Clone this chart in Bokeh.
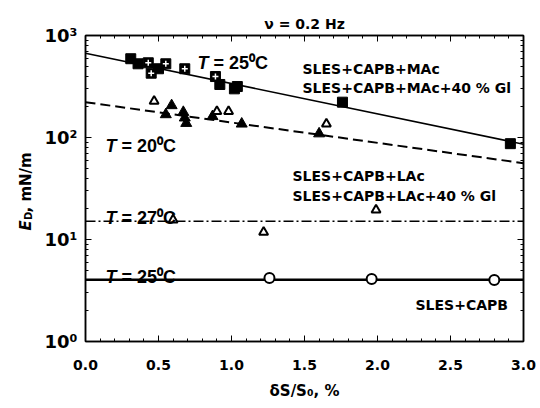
import numpy as np
from bokeh.plotting import figure
from bokeh.models import Label, LogAxis, LinearAxis, FixedTicker, Range1d, NumeralTickFormatter
from bokeh.embed import file_html
from bokeh.resources import INLINE

# ---- data ----
mac_x = [0.31, 0.36, 0.50, 0.92, 1.02, 1.04, 1.76, 2.91]
mac_y = [592, 528, 472, 331, 300, 316, 222, 87]
mac_gl_x = [0.43, 0.45, 0.55, 0.68, 0.89]
mac_gl_y = [540, 427, 528, 472, 396]
lac_x = [0.55, 0.59, 0.67, 0.68, 0.69, 0.87, 1.07, 1.60]
lac_y = [168, 206, 177, 156, 138, 161, 136, 109]
lac_gl_x = [0.47, 0.90, 0.98, 1.65]
lac_gl_y = [227, 180, 180, 136]
lac27_x = [0.60, 1.22, 1.99]
lac27_y = [15.6, 11.8, 19.5]
capb_x = [1.26, 1.96, 2.80]
capb_y = [4.2, 4.1, 4.0]
fit_x = [0.0, 3.0]
fit_mac = [670, 86]
fit_lac = [222, 56]
fit_27 = [15.1, 15.1]
fit_capb = [4.03, 4.03]
x_ticks = [0.0, 0.5, 1.0, 1.5, 2.0, 2.5, 3.0]
y_ticks = [1, 10, 100, 1000]
y_tick_labels = ["10\u2070", "10\u00b9", "10\u00b2", "10\u00b3"]

# pixel -> data helpers (for text placement only)
FL, FR, FT, FB = 85.0, 523.0, 35.0, 341.0
def X(px):
    return (px - FL) / (FR - FL) * 3.0
def Y(py):
    return 10 ** (3 - (py - FT) / (FB - FT) * 3.0)

p = figure(width=540, height=408, x_range=Range1d(0, 3), y_range=Range1d(1, 1000),
           y_axis_type="log", output_backend="svg", toolbar_location=None,
           min_border_left=85, min_border_right=17, min_border_top=35, min_border_bottom=67)
p.grid.visible = False
p.outline_line_color = "black"
p.outline_line_width = 1.5
p.background_fill_color = "white"
p.border_fill_color = "white"

minor_x = [round(0.1 * i, 2) for i in range(31) if i % 5 != 0]
minor_y = [m * 10 ** d for d in range(3) for m in range(2, 10)]

def style_axis(ax, labels=True):
    ax.axis_line_width = 1.5
    ax.major_tick_in = 6
    ax.major_tick_out = 0
    ax.minor_tick_in = 3
    ax.minor_tick_out = 0
    ax.major_tick_line_width = 1
    if not labels:
        ax.major_label_overrides = {t: "" for t in ax.ticker.ticks}
        ax.major_label_text_font_size = "8px"
        ax.major_label_standoff = 0

xa = p.xaxis[0]
xa.ticker = FixedTicker(ticks=x_ticks, minor_ticks=minor_x)
xa.formatter = NumeralTickFormatter(format="0.0")
style_axis(xa)
xa.major_label_text_font = "DejaVu Sans"
xa.major_label_text_font_style = "bold"
xa.major_label_text_font_size = "14px"
xa.major_label_text_color = "black"
xa.major_label_standoff = 18
xa.axis_label = "\u03b4S/S\u2080, %"
xa.axis_label_text_font = "DejaVu Sans"
xa.axis_label_text_font_style = "bold"
xa.axis_label_text_font_size = "15px"
xa.axis_label_text_color = "black"
xa.axis_label_standoff = 9

ya = p.yaxis[0]
ya.ticker = FixedTicker(ticks=y_ticks, minor_ticks=minor_y)
ya.major_label_overrides = {t: l for t, l in zip(y_ticks, y_tick_labels)}
style_axis(ya)
ya.major_label_text_font = "DejaVu Sans"
ya.major_label_text_font_style = "bold"
ya.major_label_text_font_size = "18px"
ya.major_label_text_color = "black"
ya.major_label_standoff = 8

ra = LogAxis(ticker=FixedTicker(ticks=y_ticks, minor_ticks=minor_y))
style_axis(ra, labels=False)
p.add_layout(ra, "right")
ta = LinearAxis(ticker=FixedTicker(ticks=x_ticks, minor_ticks=minor_x))
style_axis(ta, labels=False)
p.add_layout(ta, "above")

# fitted lines
p.line(fit_x, fit_mac, line_color="black", line_width=1.5)
p.line(fit_x, fit_lac, line_color="black", line_width=2, line_dash="10 5")
p.line(fit_x, fit_27, line_color="black", line_width=1.5, line_dash="10 3 2 3")
p.line(fit_x, fit_capb, line_color="black", line_width=2.5)

# markers
p.scatter(mac_x, mac_y, marker="square", size=10, fill_color="black", line_color="black")
p.scatter(mac_gl_x, mac_gl_y, marker="square", size=10, fill_color="black", line_color="black")
p.scatter(mac_gl_x, mac_gl_y, marker="cross", size=6, line_color="white", line_width=1.5)
p.scatter(lac_x, lac_y, marker="triangle", size=11, fill_color="black", line_color="black")
p.scatter(lac_gl_x, lac_gl_y, marker="triangle", size=9, fill_color="white", line_color="black", line_width=2)
p.scatter(lac27_x, lac27_y, marker="triangle", size=9, fill_color="white", line_color="black", line_width=2)
p.scatter(capb_x, capb_y, marker="circle", size=10, fill_color="white", line_color="black", line_width=2)

def txt(px, py, s, size=14, font="DejaVu Sans", style="bold", align="left",
        baseline="alphabetic", angle=0.0, place="center"):
    lab = Label(x=X(px), y=Y(py), text=s, text_font=font, text_font_style=style,
                text_font_size=f"{size}px", text_color="black", text_align=align,
                text_baseline=baseline, angle=angle)
    p.add_layout(lab, place)

# title (placed in the top panel so it is not clipped by the frame)
txt(304, 23, "\u03bd = 0.2 Hz", size=14, align="center", place="above")

# temperature labels
def tlabel(px, py, rest):
    txt(px, py, "T", size=18, font="Liberation Sans", style="bold italic")
    txt(px + 16, py, rest, size=18, font="Liberation Sans", style="bold")

tlabel(197, 62, "= 25\u2070C")
tlabel(105, 145, "= 20\u2070C")
tlabel(105, 217, "= 27\u2070C")
tlabel(105, 276, "= 25\u2070C")

# series labels
txt(302, 68, "SLES+CAPB+MAc")
txt(302, 87, "SLES+CAPB+MAc+40 % Gl")
txt(292, 175, "SLES+CAPB+LAc")
txt(292, 195, "SLES+CAPB+LAc+40 % Gl")
txt(415, 304, "SLES+CAPB")

# y axis label: E_D, mN/m (rotated), in side panels so it is drawn outside the frame
lx, ly = 25, 230
txt(lx, ly, "E", size=15, style="bold italic", angle=np.pi / 2, place="left")
txt(lx + 3, ly - 10.5, "D", size=10, angle=np.pi / 2, place="right")
txt(lx, ly - 18, ", mN/m", size=15, angle=np.pi / 2, place="left")

open("out.html", "w").write(file_html(p, INLINE))
